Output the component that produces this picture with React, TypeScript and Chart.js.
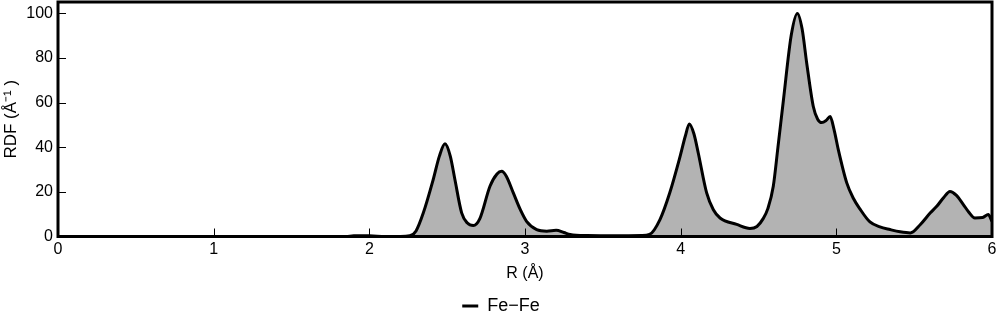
import React, { useEffect, useRef } from "react";
import { Chart, registerables } from "chart.js";

Chart.register(...registerables);

const seriesLabel = "Fe\u2212Fe";
const rValues = [
  0, 0.5, 1.0, 1.5, 1.85, 1.9, 2.0, 2.1, 2.2, 2.26, 2.3, 2.347, 2.41, 2.45, 2.486, 2.52, 2.55, 2.593, 2.63,
  2.668, 2.71, 2.775, 2.82, 2.85, 2.88, 2.925, 2.97, 3.01, 3.075, 3.14, 3.2, 3.25, 3.29, 3.4, 3.6, 3.75,
  3.8, 3.867, 3.93, 3.996, 4.03, 4.056, 4.085, 4.113, 4.167, 4.21, 4.253, 4.36, 4.445, 4.49, 4.53, 4.56,
  4.595, 4.625, 4.66, 4.71, 4.75, 4.78, 4.81, 4.852, 4.88, 4.906, 4.935, 4.96, 4.985, 5.013, 5.067, 5.11, 5.15,
  5.216, 5.28, 5.345, 5.41, 5.475, 5.54, 5.604, 5.645, 5.69, 5.73, 5.77, 5.816, 5.85, 5.89, 5.94, 5.976, 6.0,
];
const rdfValues = [
  0, 0, 0, 0, 0, 0.3, 0.3, 0, 0, 0.3, 2.5, 10.6, 25.4, 36, 41.5, 36, 25.4, 10.6, 6,
  4.9, 8, 22.5, 28, 29.2, 27, 19.5, 12, 6.8, 3.1, 2.4, 2.8, 1.8, 0.9, 0.4, 0.3, 0.4,
  0.9, 7.6, 19.6, 35.8, 45, 50.4, 46, 37.4, 19.5, 12, 8.3, 5.4, 3.6, 4.5, 8, 12.5,
  22.5, 40, 61, 90, 99.9, 93, 77.5, 58.2, 52.5, 51, 52, 53.7, 48, 38.8, 24, 17, 12.5,
  6.5, 4.3, 3.1, 2.1, 1.6, 5.4, 10.6, 13.5, 17.5, 20.2, 18.5, 14.3, 11, 8.3, 8.5, 9.8, 6.8,
];
const xTicks = [0, 1, 2, 3, 4, 5, 6];
const yTicks = [0, 20, 40, 60, 80, 100];

const FONT = "'Liberation Sans', Arial, sans-serif";

const framePlugin = {
  id: "frame",
  afterDatasetsDraw(chart: any) {
    const { ctx, chartArea: a, scales } = chart;
    const x = scales.x;
    const y = scales.y;
    ctx.save();
    ctx.strokeStyle = "#000";
    ctx.lineWidth = 1;
    ctx.beginPath();
    x.ticks.forEach((t: any) => {
      const px = Math.round(x.getPixelForValue(t.value)) + 0.5;
      ctx.moveTo(px, a.bottom);
      ctx.lineTo(px, a.bottom - 8);
    });
    y.ticks.forEach((t: any) => {
      const py = Math.round(y.getPixelForValue(t.value)) + 0.5;
      ctx.moveTo(a.left, py);
      ctx.lineTo(a.left + 8, py);
    });
    ctx.stroke();
    ctx.lineWidth = 3;
    ctx.strokeRect(a.left, a.top, a.right - a.left, a.bottom - a.top);
    ctx.restore();
  },
};

export default function App() {
  const ref = useRef<HTMLCanvasElement | null>(null);
  useEffect(() => {
    if (!ref.current) return;
    const chart = new Chart(ref.current, {
      type: "line",
      data: {
        datasets: [
          {
            label: seriesLabel,
            data: rValues.map((r, i) => ({ x: r, y: rdfValues[i] })),
            borderColor: "#000",
            borderWidth: 3,
            backgroundColor: "#b3b3b3",
            fill: "origin",
            pointRadius: 0,
            cubicInterpolationMode: "monotone",
          },
        ],
      },
      options: {
        animation: false,
        responsive: true,
        maintainAspectRatio: false,
        layout: { padding: { top: 2, right: -2, left: 0, bottom: -5 } },
        plugins: {
          tooltip: { enabled: false },
          legend: {
            position: "bottom",
            labels: {
              color: "#000",
              font: { family: FONT, size: 18 },
              usePointStyle: true,
              pointStyle: "line",
              pointStyleWidth: 16,
              boxHeight: 10,
              padding: 5,
            },
          },
        },
        scales: {
          x: {
            type: "linear",
            min: 0,
            max: 6,
            afterBuildTicks: (s: any) => {
              s.ticks = xTicks.map((v) => ({ value: v }));
            },
            afterFit: (s: any) => {
              s.height = 55.5;
              s.paddingLeft = 0;
              s.paddingRight = 8;
            },
            grid: { display: false, drawTicks: false },
            border: { display: false },
            ticks: { color: "#000", font: { family: FONT, size: 16 }, padding: 3, maxRotation: 0 },
            title: {
              display: true,
              text: "R (\u00C5)",
              color: "#000",
              font: { family: FONT, size: 16 },
              padding: { top: 4, bottom: 9 },
            },
          },
          y: {
            min: 0,
            max: 105,
            afterBuildTicks: (s: any) => {
              s.ticks = yTicks.map((v) => ({ value: v }));
            },
            afterFit: (s: any) => {
              s.width = 58;
              s.paddingTop = 0;
              s.paddingBottom = 0;
            },
            grid: { display: false, drawTicks: false },
            border: { display: false },
            ticks: { color: "#000", font: { family: FONT, size: 16 }, padding: 5 },
            title: {
              display: true,
              text: "RDF (\u00C5\u207B\u00B9 )",
              color: "#000",
              font: { family: FONT, size: 17 },
              padding: { top: 1, bottom: 1 },
            },
          },
        },
      },
      plugins: [framePlugin],
    } as any);
    return () => chart.destroy();
  }, []);
  return (
    <div style={{ position: "fixed", left: 0, top: 0, width: 1000, height: 320, background: "#fff" }}>
      <canvas ref={ref} />
    </div>
  );
}
